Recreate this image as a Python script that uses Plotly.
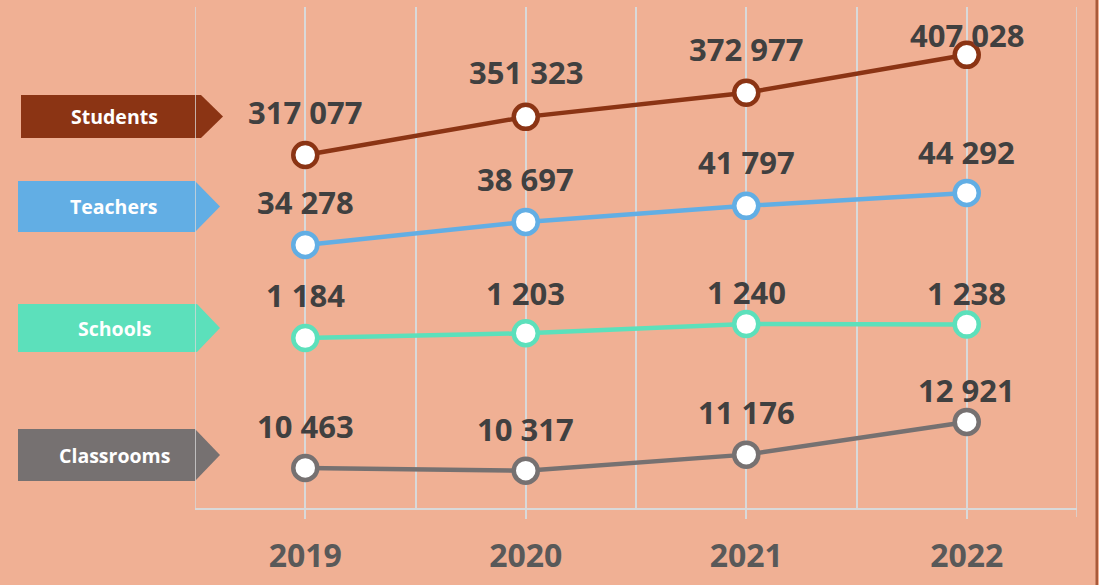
import plotly.graph_objects as go

# ---- data ----
years = [2019, 2020, 2021, 2022]
series_names = ["Students", "Teachers", "Schools", "Classrooms"]
students = [317077, 351323, 372977, 407028]
teachers = [34278, 38697, 41797, 44292]
schools = [1184, 1203, 1240, 1238]
classrooms = [10463, 10317, 11176, 12921]

# ---- style ----
W, H = 1099, 585
ML, MR, MT, MB = 195, 22, 7, 77
PW, PH = W - ML - MR, H - MT - MB
BG = "#F0B094"
GRID = "#D9D9D9"
colors = {"Students": "#8B3414", "Teachers": "#62AEE4",
          "Schools": "#5CE0BB", "Classrooms": "#767171"}
axis_ranges = {"Students": [0, 450000], "Teachers": [-16400, 80100],
               "Schools": [504, 2508], "Classrooms": [8326, 35080]}
label_offsets = {"Students": [43, 45, 44, 20], "Teachers": [43, 43, 44, 41],
                 "Schools": [43, 40, 32, 32], "Classrooms": [42, 42, 43, 32]}
# box geometry (pixels): top, bottom, left, rect-right, tip
boxes = {"Students": (95, 138, 21, 201, 223), "Teachers": (181, 232, 18, 195, 220),
         "Schools": (304, 352, 18, 197, 220), "Classrooms": (429, 481, 18, 195, 220)}
FONT = "Open Sans"

values = {"Students": students, "Teachers": teachers,
          "Schools": schools, "Classrooms": classrooms}


def px_x(px):
    return (px - ML) / PW


def px_y(py):
    return (H - MB - py) / PH


fig = go.Figure()
annotations = []
for i, name in enumerate(series_names):
    yref = "y" if i == 0 else f"y{i + 1}"
    vals = values[name]
    fig.add_trace(go.Scatter(
        x=years, y=vals, yaxis=yref, mode="lines+markers", name=name,
        line=dict(color=colors[name], width=4.5),
        marker=dict(size=24, color="white", line=dict(color=colors[name], width=4.5)),
        cliponaxis=False, showlegend=False, hoverinfo="skip"))
    for j, (x, v) in enumerate(zip(years, vals)):
        annotations.append(dict(
            x=x, y=v, xref="x", yref=yref, yshift=label_offsets[name][j],
            text=f"{v:,}".replace(",", " "), showarrow=False,
            font=dict(family=FONT, size=31, color="#404040", weight="bold")))
    top, bot, left, rr, tip = boxes[name]
    mid = (top + bot) / 2
    path = (f"M {px_x(left)} {px_y(top)} L {px_x(rr)} {px_y(top)} "
            f"L {px_x(tip)} {px_y(mid)} L {px_x(rr)} {px_y(bot)} "
            f"L {px_x(left)} {px_y(bot)} Z")
    fig.add_shape(type="path", path=path, xref="paper", yref="paper",
                  fillcolor=colors[name], line=dict(width=0), layer="below")
    annotations.append(dict(
        x=px_x(114), y=px_y(mid), xref="paper", yref="paper", showarrow=False,
        text=name, xanchor="center", yanchor="middle",
        font=dict(family=FONT, size=19.5, color="white", weight="bold")))

# plot-area edge gridlines and right-edge tick
for xe in (2018.5, 2022.5):
    fig.add_shape(type="line", xref="x", yref="paper", x0=xe, x1=xe, y0=0, y1=1,
                  line=dict(color=GRID, width=1.5), layer="below")
fig.add_shape(type="line", xref="x", yref="paper", x0=2022.5, x1=2022.5,
              y0=0, y1=-9 / PH, line=dict(color=GRID, width=1.5), layer="below")

# right edge border
fig.add_shape(type="path", xref="paper", yref="paper",
              path=(f"M {px_x(1095.5)} {px_y(-2)} L {px_x(1098)} {px_y(-2)} "
                    f"L {px_x(1098)} {px_y(H + 2)} L {px_x(1095.5)} {px_y(H + 2)} Z"),
              fillcolor="#A85A3A", line=dict(width=0), layer="above")

layout_axes = {}
for i, name in enumerate(series_names):
    key = "yaxis" if i == 0 else f"yaxis{i + 1}"
    ax = dict(range=axis_ranges[name], visible=False, showgrid=False,
              zeroline=False, fixedrange=True)
    if i > 0:
        ax["overlaying"] = "y"
    layout_axes[key] = ax

fig.update_layout(
    width=W, height=H, margin=dict(l=ML, r=MR, t=MT, b=MB),
    paper_bgcolor=BG, plot_bgcolor=BG,
    xaxis=dict(range=[2018.5, 2022.5], tickvals=years,
               ticktext=[str(y) for y in years],
               showgrid=True, gridcolor=GRID, gridwidth=1.5,
               minor=dict(dtick=0.5, tick0=2018.5, showgrid=True,
                          gridcolor=GRID, gridwidth=1.5),
               showline=True, linecolor=GRID, linewidth=1.5, mirror=False,
               ticks="outside", ticklen=9, tickcolor=GRID, tickwidth=1.5,
               zeroline=False, fixedrange=True,
               tickfont=dict(family=FONT, size=32, color="#595959", weight="bold"),
               ticklabelstandoff=10),
    annotations=annotations,
    **layout_axes,
)

fig.write_html("out.html", config={"displayModeBar": False},
               post_script="document.body.style.margin='0';"
                           "document.body.style.overflow='hidden';")
